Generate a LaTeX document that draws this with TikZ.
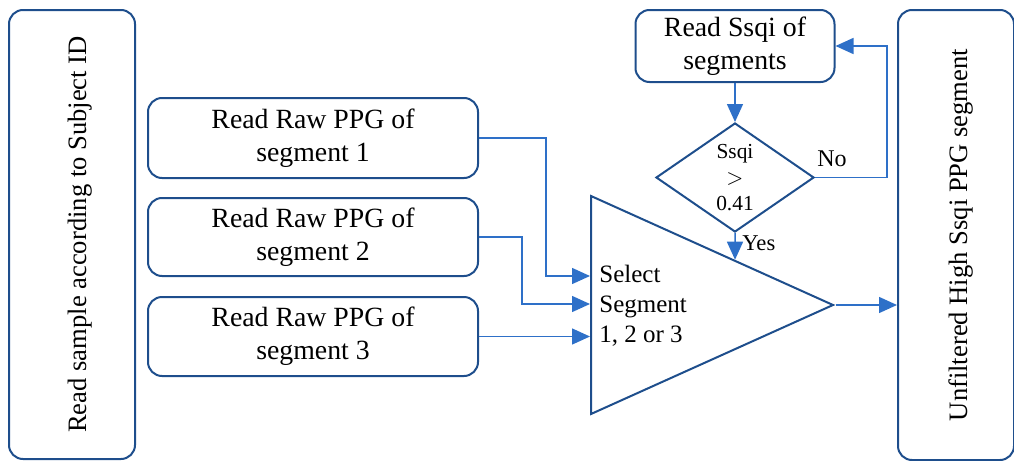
\documentclass[tikz,border=0pt]{standalone}
\usepackage{fontspec}
\setmainfont{Liberation Serif}
\usetikzlibrary{arrows.meta,shapes.geometric}
\definecolor{boxblue}{RGB}{30,78,140}
\definecolor{arrblue}{RGB}{46,112,200}
\tikzset{
  box/.style={rectangle,draw=boxblue,line width=1pt,rounded corners=7pt,
              align=center,inner sep=0pt,font=\fontsize{13.9}{16.6}\selectfont},
  arr/.style={draw=arrblue,line width=0.75pt,-{Triangle[length=9pt,width=8pt]}},
}
\begin{document}
\begin{tikzpicture}[x=0.5pt,y=-0.5pt]
  \useasboundingbox (0,0) rectangle (1014,461);
  \node[box,minimum width=63pt,minimum height=224.5pt] (subj) at (72,234.5)
    {\rotatebox{90}{\fontsize{13.3}{16}\selectfont\rule{0pt}{17pt}Read sample according to Subject ID}};
  \node[box,minimum width=58pt,minimum height=225pt] (out) at (956,235)
    {\rotatebox{90}{\fontsize{13.3}{16}\selectfont\rule{0pt}{14pt}Unfiltered High Ssqi PPG segment}};
  \node[box,minimum width=165pt,minimum height=40pt] (seg1) at (313,138)
    {Read Raw PPG of\\segment 1};
  \node[box,minimum width=165pt,minimum height=39pt] (seg2) at (313,237)
    {Read Raw PPG of\\segment 2};
  \node[box,minimum width=165pt,minimum height=39.5pt] (seg3) at (313,336.5)
    {Read Raw PPG of\\segment 3};
  \node[box,minimum width=99.5pt,minimum height=36pt] (ssqi) at (735,46)
    {Read Ssqi of\\segments};
  \node[diamond,draw=boxblue,line width=1pt,inner sep=0pt,
        minimum width=79pt,minimum height=54.5pt,align=center,
        font=\fontsize{10.7}{13}\selectfont] (thr) at (735,177.5)
    {Ssqi\\$>$\\0.41};
  \node[isosceles triangle,isosceles triangle stretches,draw=boxblue,
        line width=1pt,inner sep=0pt,minimum width=109pt,minimum height=121pt,
        anchor=lower side] (sel) at (590,305) {};
  \node[anchor=west,align=left,inner sep=0pt,
        font=\fontsize{12.5}{15}\selectfont] (seltext) at (599,306)
    {Select\\Segment\\1, 2 or 3};
  \draw[arr] (ssqi.south) -- (thr.north);
  \draw[arr] (thr.south) -- (intersection of thr.south--thr.north and sel.apex--sel.left corner)
    node[pos=0.4,right=0pt,font=\fontsize{11.3}{13}\selectfont] (yes) {Yes};
  \draw[arr] (thr.east) -- ++(72,0) |- (ssqi.east);
  \node[font=\fontsize{12}{14}\selectfont] (no) at (832,159) {No};
  \draw[arr] (seg1.east) -- ++(67,0) |- (sel.lower side |- 0,276);
  \draw[arr] (seg2.east) -- ++(43,0) |- (sel.lower side |- 0,304);
  \draw[arr] (seg3.east) -- (sel.lower side |- seg3.east);
  \draw[arr] (sel.apex) -- (sel.apex -| out.west);
\end{tikzpicture}
\end{document}
